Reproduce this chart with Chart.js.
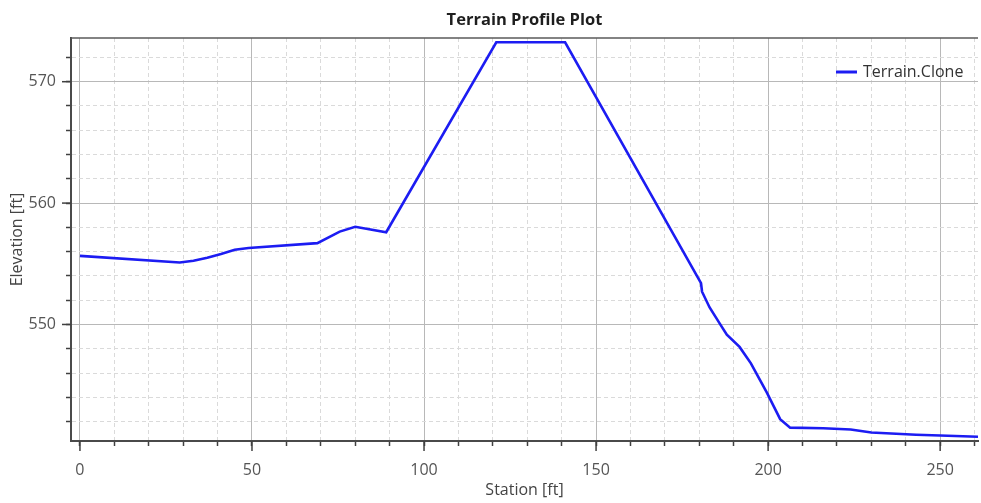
<!DOCTYPE html>
<html>
<head>
<meta charset="utf-8">
<script src="https://cdn.jsdelivr.net/npm/chart.js@4.4.1/dist/chart.umd.min.js"></script>
<style>
  html, body { margin: 0; padding: 0; background: #ffffff; }
  #wrap { width: 981px; height: 503px; position: relative; }
</style>
</head>
<body>
<div id="wrap"><canvas id="c" width="981" height="503"></canvas></div>
<script>
// ---- Data ----
const chartTitle = 'Terrain Profile Plot';
const seriesName = 'Terrain.Clone';
const xAxisTitle = 'Station [ft]';
const yAxisTitle = 'Elevation [ft]';

const stations = [0, 29, 33, 37, 41, 45, 49, 69, 75.5, 80, 89, 121, 141, 180.5, 180.8, 183, 186, 188, 191.7, 195, 199.6, 203.5, 206.4, 216, 224, 230, 243, 250, 261];
const elevations = [555.65, 555.1, 555.25, 555.5, 555.8, 556.15, 556.3, 556.7, 557.65, 558.05, 557.6, 573.25, 573.25, 553.4, 552.7, 551.4, 550.05, 549.15, 548.15, 546.8, 544.4, 542.2, 541.5, 541.45, 541.35, 541.1, 540.92, 540.85, 540.75];

const xRange = [-2.6, 261];
const yRange = [540.4, 573.6];
const xTickStep = 10, xMajorStep = 50;
const yTickStep = 2, yMajorStep = 10;

const points = stations.map((s, i) => ({ x: s, y: elevations[i] }));

const isMult = (v, m) => Math.abs(v - Math.round(v / m) * m) < 1e-6;

const FONT = "'Open Sans', 'Noto Sans', sans-serif";

const extrasPlugin = {
  id: 'extras',
  afterDraw(chart) {
    const { ctx, chartArea: a, scales } = chart;
    ctx.save();
    // top frame line
    ctx.strokeStyle = '#5a5a5a';
    ctx.lineWidth = 1.5;
    ctx.beginPath();
    ctx.moveTo(a.left, a.top);
    ctx.lineTo(a.right, a.top);
    ctx.stroke();
    // longer major tick marks
    ctx.strokeStyle = '#404040';
    ctx.lineWidth = 1.5;
    scales.x.ticks.forEach(t => {
      if (isMult(t.value, xMajorStep)) {
        const px = scales.x.getPixelForValue(t.value);
        ctx.beginPath(); ctx.moveTo(px, a.bottom); ctx.lineTo(px, a.bottom + 10); ctx.stroke();
      }
    });
    scales.y.ticks.forEach(t => {
      if (isMult(t.value, yMajorStep)) {
        const py = scales.y.getPixelForValue(t.value);
        ctx.beginPath(); ctx.moveTo(a.left - 9, py); ctx.lineTo(a.left, py); ctx.stroke();
      }
    });
    // legend inside plot area, top right
    const ds = chart.data.datasets[0];
    const ly = a.top + 34;
    const lx = a.right - 142;
    ctx.strokeStyle = ds.borderColor;
    ctx.lineWidth = 3;
    ctx.beginPath(); ctx.moveTo(lx, ly); ctx.lineTo(lx + 21, ly); ctx.stroke();
    ctx.fillStyle = '#333333';
    ctx.font = "16px " + FONT;
    ctx.textBaseline = 'middle';
    ctx.textAlign = 'left';
    ctx.fillText(ds.label, lx + 27, ly);
    ctx.restore();
  }
};

new Chart(document.getElementById('c'), {
  type: 'scatter',
  data: {
    datasets: [{
      label: seriesName,
      data: points,
      showLine: true,
      borderColor: 'rgb(28,28,242)',
      backgroundColor: 'rgb(28,28,242)',
      borderWidth: 2.6,
      pointRadius: 0,
      pointHoverRadius: 0,
      tension: 0
    }]
  },
  options: {
    responsive: false,
    animation: false,
    devicePixelRatio: 1,
    layout: { padding: { left: 0, right: 3, top: 0, bottom: 0 } },
    plugins: {
      legend: { display: false },
      tooltip: { enabled: false },
      title: {
        display: true,
        fullSize: false,
        text: chartTitle,
        color: '#1e1e1e',
        font: { family: FONT, size: 16.5, weight: 'bold', lineHeight: 1.2 },
        padding: { top: 10.5, bottom: 7.7 }
      }
    },
    scales: {
      x: {
        type: 'linear',
        min: xRange[0],
        max: xRange[1],
        afterFit: s => { s.height = 62; s.paddingLeft = 0; s.paddingRight = 0; },
        ticks: {
          stepSize: xTickStep,
          includeBounds: false,
          autoSkip: false,
          maxRotation: 0,
          padding: 15,
          color: '#555555',
          font: { family: FONT, size: 16 },
          callback: v => isMult(v, xMajorStep) ? String(Math.round(v)) : ''
        },
        grid: {
          color: c => (c.tick && isMult(c.tick.value, xMajorStep)) ? '#b8b8b8' : '#dadada',
          lineWidth: 1,
          tickLength: 5,
          tickColor: '#404040',
          tickWidth: 1.5,
          tickBorderDash: []
        },
        border: {
          display: true,
          color: '#4a4a4a',
          width: 2,
          dash: c => (c.tick && !isMult(c.tick.value, xMajorStep)) ? [4, 3] : []
        },
        title: {
          display: true,
          text: xAxisTitle,
          color: '#444444',
          font: { family: FONT, size: 16, lineHeight: 1.2 },
          padding: { top: 0, bottom: 2.5 }
        }
      },
      y: {
        type: 'linear',
        min: yRange[0],
        max: yRange[1],
        afterFit: s => { s.width = 71; s.paddingTop = 0; s.paddingBottom = 0; },
        ticks: {
          stepSize: yTickStep,
          includeBounds: false,
          autoSkip: false,
          padding: 10,
          color: '#555555',
          font: { family: FONT, size: 16 },
          callback: v => isMult(v, yMajorStep) ? String(Math.round(v)) : ''
        },
        grid: {
          color: c => (c.tick && isMult(c.tick.value, yMajorStep)) ? '#b8b8b8' : '#dadada',
          lineWidth: 1,
          tickLength: 5,
          tickColor: '#404040',
          tickWidth: 1.5,
          tickBorderDash: []
        },
        border: {
          display: true,
          color: '#4a4a4a',
          width: 2,
          dash: c => (c.tick && !isMult(c.tick.value, yMajorStep)) ? [4, 3] : []
        },
        title: {
          display: true,
          text: yAxisTitle,
          color: '#444444',
          font: { family: FONT, size: 16, lineHeight: 1.2 },
          padding: { top: 8, bottom: 0 }
        }
      }
    }
  },
  plugins: [extrasPlugin]
});
</script>
</body>
</html>
